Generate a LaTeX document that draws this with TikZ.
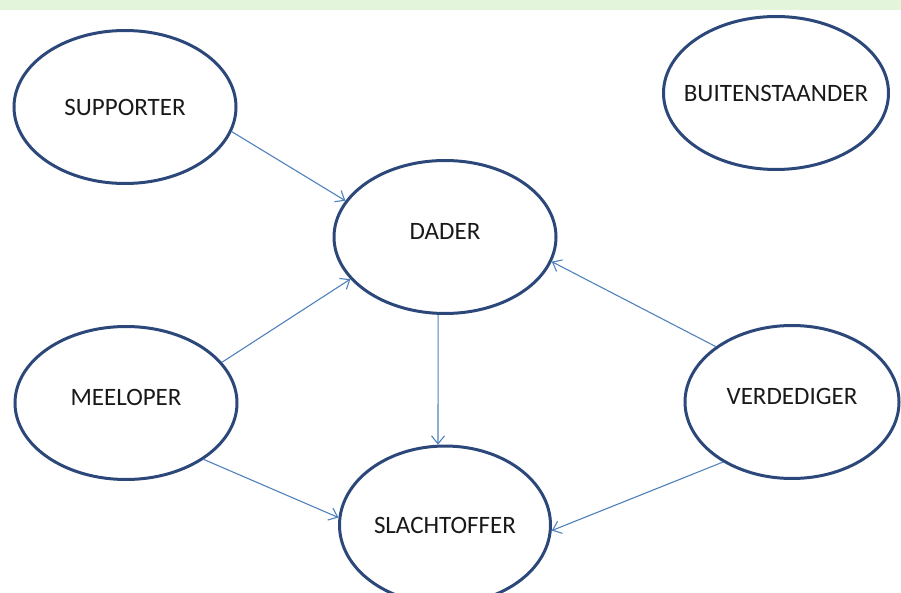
\documentclass[tikz,border=0pt]{standalone}
\usepackage{fontspec}
\setmainfont{Carlito}
\usetikzlibrary{shapes.geometric,arrows.meta}
\definecolor{ovalblue}{RGB}{44,72,122}
\definecolor{arrowblue}{RGB}{79,129,189}
\definecolor{topband}{RGB}{227,245,218}
\tikzset{%
  font=\fontsize{25}{29}\selectfont,
  >={Straight Barb[length=8pt,width=13pt]}
}
\begin{document}
\begin{tikzpicture}[x=1pt,y=1pt,%
	v/.style={ellipse,draw=ovalblue,line width=3pt,inner xsep=-30pt,inner ysep=0pt,%
		minimum width=222pt,minimum height=153pt,text=black!90},%
	up/.style={text depth=12pt},%
	e/.style={->,draw=arrowblue,line width=1.1pt}]
	\useasboundingbox (0,0) rectangle (901,592);
	\fill[topband] (0,582) rectangle (901,592);
	% the roles
	\node[v] (supporter) at (125,485) {SUPPORTER};
	\node[v,minimum width=225pt] (buiten) at (776,499) {BUITENSTAANDER};
	\node[v,up] (dader) at (445,355) {DADER};
	\node[v,up] (meeloper) at (126,189) {MEELOPER};
	\node[v,up,minimum width=214pt] (verdediger) at (792,190) {VERDEDIGER};
	\node[v,minimum width=211pt,minimum height=158pt] (slachtoffer) at (445,67) {SLACHTOFFER};
	% connectors
	\draw[e] (supporter.-13) -- (dader.160);
	\draw[e] (meeloper.23) -- (dader.-156);
	\draw[e] (meeloper.-36) -- (slachtoffer.176);
	\draw[e] (dader.-95) -- (slachtoffer.95);
	\draw[e] (verdediger.144) -- (dader.-13);
	\draw[e] (verdediger.-139) -- (slachtoffer.-3);
\end{tikzpicture}
\end{document}
